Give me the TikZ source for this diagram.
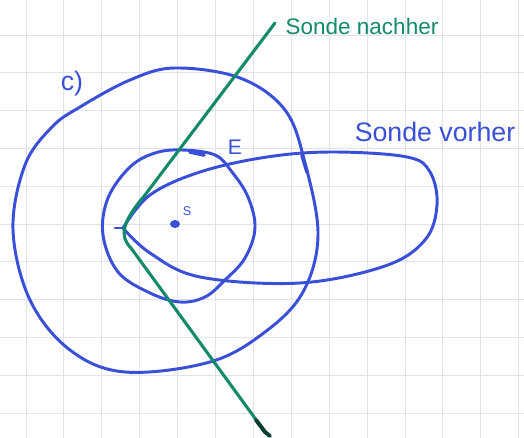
\documentclass[tikz,border=0pt]{standalone}
\usepackage{fontspec}
\setmainfont{Liberation Sans}
\definecolor{inkblue}{HTML}{3A4FD8}
\definecolor{inkgreen}{HTML}{138A6C}
\definecolor{gridgray}{HTML}{E0E3EC}

\tikzset{
    grid line/.style={
      draw=gridgray,
      line width=0.6pt
    },
    blue curve/.style={
      draw=inkblue,
      line width=2.1pt,
      line cap=round,
      line join=round
    },
    probe line/.style={
      draw=inkgreen,
      line width=2.2pt,
      line cap=round,
      line join=round
    },
    blue label/.style={
      text=inkblue,
      font=\fontsize{19}{22}\selectfont
    },
    green label/.style={
      text=inkgreen,
      font=\fontsize{16}{19}\selectfont
    }
  }

\begin{document}
\begin{tikzpicture}[x=0.025cm,y=-0.025cm]
      \useasboundingbox (0,0) rectangle (524,438);
      \fill[white] (0,0) rectangle (524,438);

      % Gitter
      \foreach \k in {-1,...,13} {
        \draw[grid line] (26+37.9*\k,0) -- (26+37.9*\k,438);
      }
      \foreach \k in {0,...,11} {
        \draw[grid line] (0,413-37.8*\k) -- (524,413-37.8*\k);
      }

      % Kurven
      \draw[blue curve] plot[smooth cycle, tension=0.6] coordinates {
        (80,107) (130,80) (175,68) (240,78) (285,110) (305,163) (318,235)
        (303,292) (265,332) (210,362) (125,372) (70,350) (30,300) (13,230)
        (25,165) (52,127)};
      \draw[blue curve] plot[smooth cycle, tension=0.6] coordinates {
        (182,150) (215,155) (232,172) (248,197) (255,228) (245,258) (225,280)
        (205,297) (180,302) (150,293) (118,272) (103,235) (108,198) (130,167)
        (155,153)};
      \draw[blue curve] plot[smooth, tension=0.6] coordinates {
        (123,228) (150,195) (200,172) (267,157) (333,152) (407,157) (430,172)
        (437,205) (425,240) (385,266) (300,283) (200,277) (150,253) (123,228)};
      \draw[blue curve] (115,228) -- (125,228);
      \draw[blue curve, line width=2.6pt] (302,155) -- (307,172);
      \draw[blue curve, line width=2.6pt] (190,152) -- (204,155);

      % Sonde
      \coordinate (probe top) at (275,23);
      \coordinate (probe bend) at (145,195);
      \coordinate (probe low) at (131,248);
      \coordinate (probe end) at (265,432);
      \draw[probe line] (probe top) -- (probe bend)
        .. controls (122,222) and (119,236) .. (probe low) -- (probe end);
      \draw[probe line, draw=inkgreen!45!black, line width=2.8pt]
        (256,420) -- (probe end) -- (270,436);

      % Punkt
      \fill[inkblue] (175,224) ellipse (5 and 4);

      % Beschriftung
      \node[blue label] (part) at (72,84) {c)};
      \node[blue label, font=\fontsize{15}{18}\selectfont] (eps) at (235,147) {E};
      \node[blue label, font=\fontsize{9}{11}\selectfont] (src) at (187,211) {S};
      \node[blue label] (before) at (435,132) {Sonde vorher};
      \node[green label] (after) at (362,26) {Sonde nachher};
    \end{tikzpicture}
\end{document}
